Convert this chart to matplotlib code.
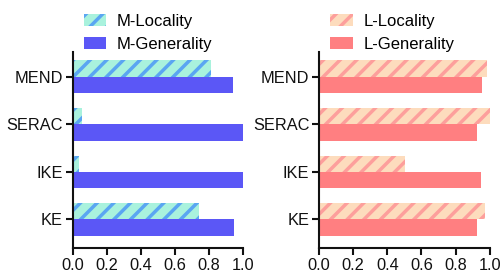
import matplotlib
matplotlib.use("Agg")
import matplotlib.pyplot as plt
import numpy as np

plt.rcParams['font.family'] = ['Liberation Sans', 'DejaVu Sans']
plt.rcParams['hatch.linewidth'] = 2.5

methods = ["KE", "IKE", "SERAC", "MEND"]
m_locality = [0.74, 0.035, 0.057, 0.81]
m_generality = [0.947, 1.0, 1.0, 0.94]
l_locality = [0.972, 0.504, 1.0, 0.984]
l_generality = [0.926, 0.949, 0.926, 0.953]

fig = plt.figure(figsize=(5.02, 2.73), dpi=100)
ax1 = fig.add_axes([0.1448, 0.0916, 0.339, 0.718])
ax2 = fig.add_axes([0.6355, 0.0916, 0.3400, 0.718])

y = np.arange(len(methods))
h = 0.343

def draw(ax, loc, gen, loc_face, loc_hatch, gen_color, loc_label, gen_label):
    ax.barh(y + h / 2, loc, height=h, color=loc_face, edgecolor=loc_hatch,
            hatch='//', linewidth=0, label=loc_label)
    ax.barh(y - h / 2, gen, height=h, color=gen_color, linewidth=0, label=gen_label)
    ax.set_xlim(0, 1.0)
    ax.set_ylim(-0.6, 3.52)
    ax.set_yticks(y)
    ax.set_yticklabels(methods)
    ax.set_xticks([0, 0.2, 0.4, 0.6, 0.8, 1.0])
    ax.set_xticklabels(["0.0", "0.2", "0.4", "0.6", "0.8", "1.0"])
    for s in ['top', 'right']:
        ax.spines[s].set_visible(False)
    for s in ['left', 'bottom']:
        ax.spines[s].set_linewidth(1.5)
        ax.spines[s].set_color('#111111')
    ax.tick_params(axis='both', length=5, width=1.5, labelsize=11.8, color='#111111',
                   labelcolor='#111111', pad=2)
    leg = ax.legend(loc='lower left', bbox_to_anchor=(0.065, 1.0), frameon=False,
                    borderaxespad=0, borderpad=0, fontsize=12, handlelength=1.35,
                    handleheight=0.7, handletextpad=0.65, labelspacing=0.5)
    return leg

draw(ax1, m_locality, m_generality, '#a9f2dd', '#5aa6f2', '#5b57f6', 'M-Locality', 'M-Generality')
draw(ax2, l_locality, l_generality, '#fddcbd', '#fd9f9c', '#ff7f81', 'L-Locality', 'L-Generality')

fig.savefig("out.png", dpi=100)
